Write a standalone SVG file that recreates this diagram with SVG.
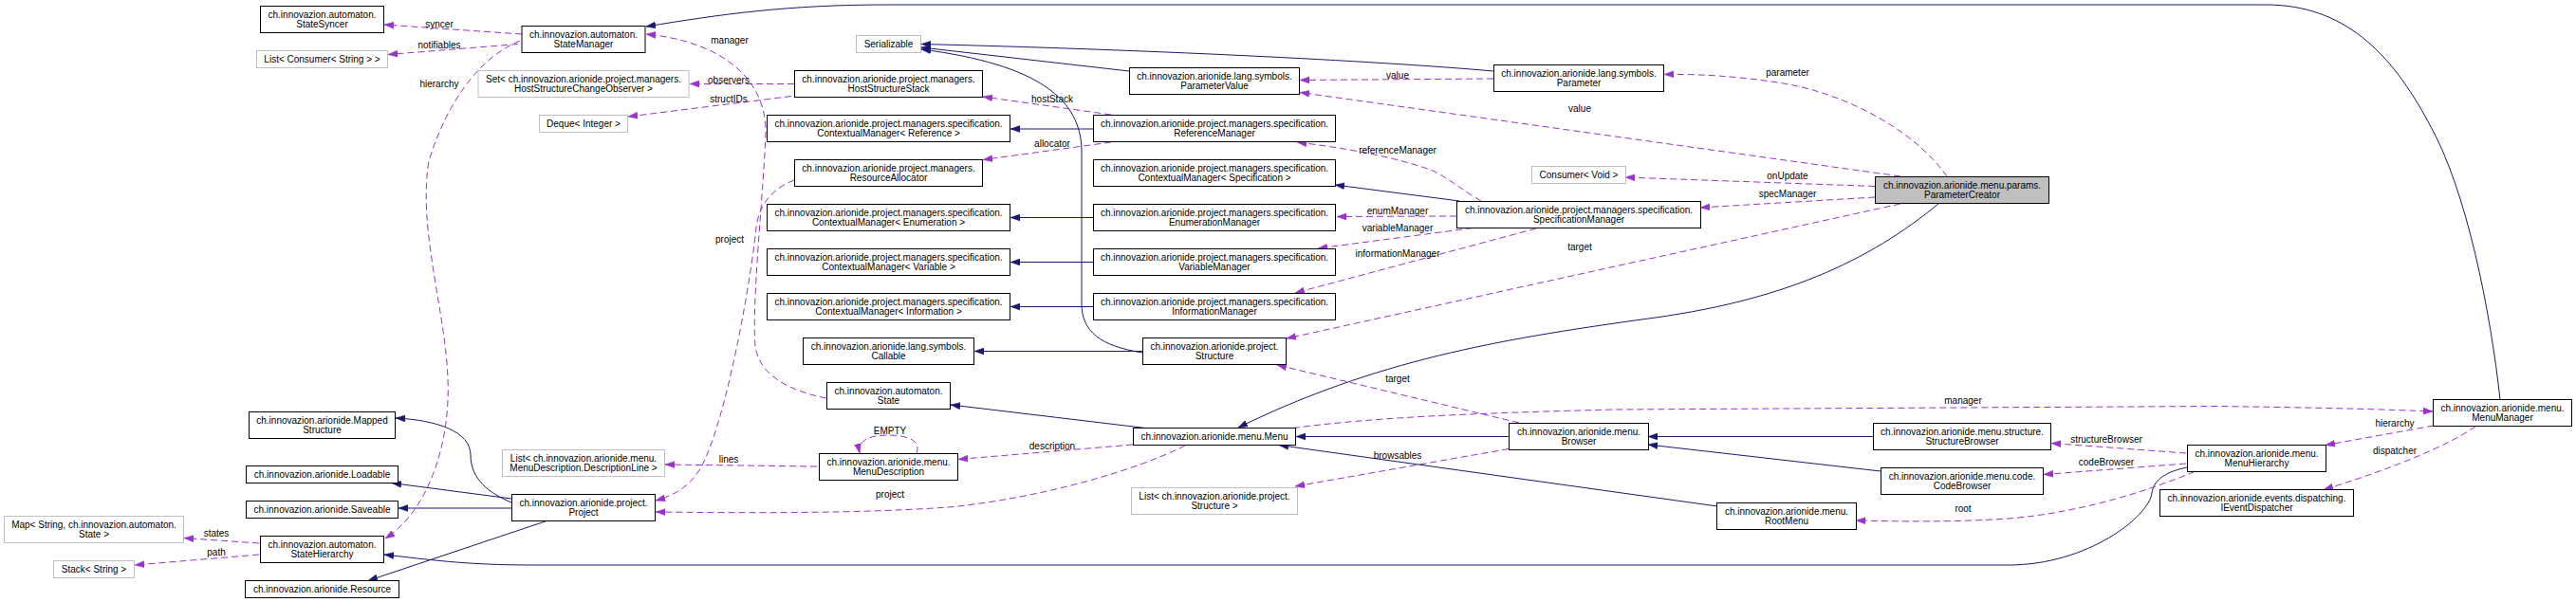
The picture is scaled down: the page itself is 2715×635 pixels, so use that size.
<svg xmlns="http://www.w3.org/2000/svg" width="2715" height="635" viewBox="0 0 2715 635">
<style>
text{font-family:"Liberation Sans",Arial,Helvetica,sans-serif;font-size:10px;text-anchor:middle;fill:#000}
.node rect{fill:#fff;stroke:#000;stroke-width:1}
.ext rect{stroke:#bfbfbf}
.cur rect{fill:#bfbfbf}
.inh{fill:none;stroke:#191970;stroke-width:1;marker-end:url(#an)}
.use{fill:none;stroke:#9a32cd;stroke-width:1;stroke-dasharray:7,4;marker-end:url(#ap)}
</style>
<defs>
<marker id="an" markerUnits="userSpaceOnUse" markerWidth="10" markerHeight="8" viewBox="0 0 10 8" refX="10" refY="4" orient="auto"><path d="M0,0.5 L10,4 L0,7.5 z" fill="#191970" stroke="#191970" stroke-width="0.5"/></marker>
<marker id="ap" markerUnits="userSpaceOnUse" markerWidth="10" markerHeight="8" viewBox="0 0 10 8" refX="10" refY="4" orient="auto"><path d="M0,0.5 L10,4 L0,7.5 z" fill="#9a32cd" stroke="#9a32cd" stroke-width="0.5"/></marker>
</defs>
<rect width="2715" height="635" fill="#fff"/>

<g id="connectors">
<!-- inheritance -->
<path class="inh" d="M2635,421.5 C2625,330 2600,200 2560,130 C2520,55 2470,5 2388,5 L935,5 C830,5 760,15 681,28"/>
<path class="inh" d="M2043,215 C1970,275 1880,318 1730,337 C1580,358 1450,380 1305,451"/>
<path class="inh" d="M1574,75 C1450,64 1200,52 971,46.5"/>
<path class="inh" d="M1190,75 L971,50"/>
<path class="inh" d="M1204,372 C1160,365 1140,350 1140,320 L1140,160 C1140,105 1095,68 971,52"/>
<path class="inh" d="M1152,136 L1065,136"/>
<path class="inh" d="M1538,212 L1407,195"/>
<path class="inh" d="M1152,229.5 L1065,229.5"/>
<path class="inh" d="M1152,276.5 L1065,276.5"/>
<path class="inh" d="M1152,323.5 L1065,323.5"/>
<path class="inh" d="M1204,370.5 L1027,370.5"/>
<path class="inh" d="M1207,451.5 L1002,427"/>
<path class="inh" d="M1590,460.5 L1366,460.5"/>
<path class="inh" d="M1810,534 L1348,469.5"/>
<path class="inh" d="M1974,460.5 L1737,460.5"/>
<path class="inh" d="M1982,497 L1737,469"/>
<path class="inh" d="M2305,493 C2285,497 2270,505 2268,520 C2265,545 2200,596 2117,596 L560,596 C490,596 450,590 405,585"/>
<path class="inh" d="M539,530 C515,520 496,505 496,480 C496,455 460,443 417,441"/>
<path class="inh" d="M539,526 L413,509.5"/>
<path class="inh" d="M539,536 L420,536"/>
<path class="inh" d="M576,549.5 L388,612.5"/>
<!-- usage -->
<path class="use" d="M550,36 L405,26"/>
<path class="use" d="M546,46.5 L409,57.5"/>
<path class="use" d="M548,43 C505,60 470,110 452,170 C440,240 470,330 472,400 C475,470 450,540 406,568"/>
<path class="use" d="M837,88.5 L727,88.5"/>
<path class="use" d="M834,101.5 L662,123"/>
<path class="use" d="M871,420 C830,412 800,395 796,365 C792,320 805,200 807,140 C808,90 770,45 681,36"/>
<path class="use" d="M837,190 C815,198 800,215 797,240 C792,290 770,420 745,480 C735,505 720,520 691,528"/>
<path class="use" d="M1171,121 L1036,102"/>
<path class="use" d="M1171,150 L1036,168.5"/>
<path class="use" d="M1574,83 L1370,84.5"/>
<path class="use" d="M2052,186 C2020,140 1950,100 1880,88 C1830,80 1790,78 1754,78.5"/>
<path class="use" d="M2003,186 L1370,97.5"/>
<path class="use" d="M1976,196.5 L1713,187"/>
<path class="use" d="M1976,208 L1792,219"/>
<path class="use" d="M2003,215 L1356,357"/>
<path class="use" d="M1561,212 C1540,200 1530,190 1510,180 C1470,165 1410,155 1367,150"/>
<path class="use" d="M1535,228 L1409,228.5"/>
<path class="use" d="M1552,240.5 L1389,262"/>
<path class="use" d="M1619,241 L1365,309"/>
<path class="use" d="M1601,446 L1346,385"/>
<path class="use" d="M1363,451.5 C1450,440 1550,436 1700,432 L2336,428.5 C2450,430 2520,432 2564,434"/>
<path class="use" d="M1194,469 L1010,484.5"/>
<path class="use" d="M966,478 C972,462 950,459 936,459 C918,459 903,464 906,478"/>
<path class="use" d="M861,492 L701,490"/>
<path class="use" d="M1249,470 C1200,495 1100,525 1000,535 C900,542 780,541 691,540"/>
<path class="use" d="M1590,473.5 L1365,513"/>
<path class="use" d="M2313,497.5 C2270,515 2200,540 2117,547 C2060,551 2000,550 1956,549"/>
<path class="use" d="M2304,478 L2162,467.5"/>
<path class="use" d="M2304,489 L2154,500.5"/>
<path class="use" d="M2565,449 L2451,469.5"/>
<path class="use" d="M2609,450 C2580,470 2520,495 2449,516.5"/>
<path class="use" d="M273,573 L194,567.5"/>
<path class="use" d="M273,585 L142,596"/>
<!-- labels -->
<text x="463" y="28.5">syncer</text>
<text x="463" y="51">notifiables</text>
<text x="463" y="92">hierarchy</text>
<text x="769" y="46">manager</text>
<text x="768" y="87.5">observers</text>
<text x="768" y="107.5">structIDs</text>
<text x="769" y="256">project</text>
<text x="1109" y="108">hostStack</text>
<text x="1109" y="155">allocator</text>
<text x="1473" y="83">value</text>
<text x="1884" y="80">parameter</text>
<text x="1665" y="118">value</text>
<text x="1884" y="189">onUpdate</text>
<text x="1884" y="208">specManager</text>
<text x="1665" y="264">target</text>
<text x="1473" y="162">referenceManager</text>
<text x="1473" y="226">enumManager</text>
<text x="1473" y="244">variableManager</text>
<text x="1473" y="271">informationManager</text>
<text x="1473" y="403">target</text>
<text x="2069" y="426">manager</text>
<text x="1109" y="473.5">description</text>
<text x="938" y="458">EMPTY</text>
<text x="768" y="488">lines</text>
<text x="938" y="525">project</text>
<text x="1473" y="484">browsables</text>
<text x="2069" y="540">root</text>
<text x="2220" y="467">structureBrowser</text>
<text x="2220" y="491">codeBrowser</text>
<text x="2524" y="450">hierarchy</text>
<text x="2524" y="479">dispatcher</text>
<text x="228" y="566">states</text>
<text x="228" y="586">path</text>
</g>

<g id="StateSyncer" class="node"><rect x="274.5" y="6.5" width="130" height="28"/><text x="339.5" y="18.5">ch.innovazion.automaton.</text><text x="339.5" y="29">StateSyncer</text></g>
<g id="ListConsumerString" class="node ext"><rect x="270.5" y="53.5" width="138" height="18"/><text x="339.5" y="66">List&lt; Consumer&lt; String &gt; &gt;</text></g>
<g id="StateManager" class="node"><rect x="550" y="27.5" width="130" height="28"/><text x="615" y="39.5">ch.innovazion.automaton.</text><text x="615" y="50">StateManager</text></g>
<g id="SetHostObserver" class="node ext"><rect x="504" y="74.5" width="222" height="28"/><text x="615" y="86.5">Set&lt; ch.innovazion.arionide.project.managers.</text><text x="615" y="97">HostStructureChangeObserver &gt;</text></g>
<g id="DequeInteger" class="node ext"><rect x="568.5" y="121.5" width="93" height="18"/><text x="615" y="134">Deque&lt; Integer &gt;</text></g>
<g id="Serializable" class="node ext"><rect x="902.5" y="37.5" width="68" height="18"/><text x="936.5" y="50">Serializable</text></g>
<g id="HostStructureStack" class="node"><rect x="837.5" y="74.5" width="198" height="28"/><text x="936.5" y="86.5">ch.innovazion.arionide.project.managers.</text><text x="936.5" y="97">HostStructureStack</text></g>
<g id="ParameterValue" class="node"><rect x="1190.5" y="71.5" width="179" height="28"/><text x="1280" y="83.5">ch.innovazion.arionide.lang.symbols.</text><text x="1280" y="94">ParameterValue</text></g>
<g id="Parameter" class="node"><rect x="1574.5" y="68.5" width="179" height="28"/><text x="1664" y="80.5">ch.innovazion.arionide.lang.symbols.</text><text x="1664" y="91">Parameter</text></g>
<g id="ParameterCreator" class="node cur"><rect x="1976.5" y="186.5" width="183" height="28"/><text x="2068" y="198.5">ch.innovazion.arionide.menu.params.</text><text x="2068" y="209">ParameterCreator</text></g>
<g id="ConsumerVoid" class="node ext"><rect x="1614.5" y="175.5" width="99" height="18"/><text x="1664" y="188">Consumer&lt; Void &gt;</text></g>
<g id="CMReference" class="node"><rect x="808.5" y="121.5" width="256" height="28"/><text x="936.5" y="133.5">ch.innovazion.arionide.project.managers.specification.</text><text x="936.5" y="144">ContextualManager&lt; Reference &gt;</text></g>
<g id="ReferenceManager" class="node"><rect x="1152.5" y="121.5" width="255" height="28"/><text x="1280" y="133.5">ch.innovazion.arionide.project.managers.specification.</text><text x="1280" y="144">ReferenceManager</text></g>
<g id="ResourceAllocator" class="node"><rect x="837.5" y="168.5" width="198" height="28"/><text x="936.5" y="180.5">ch.innovazion.arionide.project.managers.</text><text x="936.5" y="191">ResourceAllocator</text></g>
<g id="CMSpecification" class="node"><rect x="1152.5" y="168.5" width="255" height="28"/><text x="1280" y="180.5">ch.innovazion.arionide.project.managers.specification.</text><text x="1280" y="191">ContextualManager&lt; Specification &gt;</text></g>
<g id="CMEnumeration" class="node"><rect x="808.5" y="215.5" width="256" height="28"/><text x="936.5" y="227.5">ch.innovazion.arionide.project.managers.specification.</text><text x="936.5" y="238">ContextualManager&lt; Enumeration &gt;</text></g>
<g id="EnumerationManager" class="node"><rect x="1152.5" y="215.5" width="255" height="28"/><text x="1280" y="227.5">ch.innovazion.arionide.project.managers.specification.</text><text x="1280" y="238">EnumerationManager</text></g>
<g id="SpecificationManager" class="node"><rect x="1535.5" y="212.5" width="257" height="28"/><text x="1664" y="224.5">ch.innovazion.arionide.project.managers.specification.</text><text x="1664" y="235">SpecificationManager</text></g>
<g id="CMVariable" class="node"><rect x="808.5" y="262.5" width="256" height="28"/><text x="936.5" y="274.5">ch.innovazion.arionide.project.managers.specification.</text><text x="936.5" y="285">ContextualManager&lt; Variable &gt;</text></g>
<g id="VariableManager" class="node"><rect x="1152.5" y="262.5" width="255" height="28"/><text x="1280" y="274.5">ch.innovazion.arionide.project.managers.specification.</text><text x="1280" y="285">VariableManager</text></g>
<g id="CMInformation" class="node"><rect x="808.5" y="309.5" width="256" height="28"/><text x="936.5" y="321.5">ch.innovazion.arionide.project.managers.specification.</text><text x="936.5" y="332">ContextualManager&lt; Information &gt;</text></g>
<g id="InformationManager" class="node"><rect x="1152.5" y="309.5" width="255" height="28"/><text x="1280" y="321.5">ch.innovazion.arionide.project.managers.specification.</text><text x="1280" y="332">InformationManager</text></g>
<g id="Callable" class="node"><rect x="846.5" y="356.5" width="180" height="28"/><text x="936.5" y="368.5">ch.innovazion.arionide.lang.symbols.</text><text x="936.5" y="379">Callable</text></g>
<g id="Structure" class="node"><rect x="1204.5" y="356.5" width="151" height="28"/><text x="1280" y="368.5">ch.innovazion.arionide.project.</text><text x="1280" y="379">Structure</text></g>
<g id="State" class="node"><rect x="871.5" y="403.5" width="130" height="28"/><text x="936.5" y="415.5">ch.innovazion.automaton.</text><text x="936.5" y="426">State</text></g>
<g id="Menu" class="node"><rect x="1194.5" y="451.5" width="171" height="18"/><text x="1280" y="464">ch.innovazion.arionide.menu.Menu</text></g>
<g id="MenuDescription" class="node"><rect x="863.5" y="478.5" width="146" height="28"/><text x="936.5" y="490.5">ch.innovazion.arionide.menu.</text><text x="936.5" y="501">MenuDescription</text></g>
<g id="ListDescriptionLine" class="node ext"><rect x="529.5" y="474.5" width="171" height="28"/><text x="615" y="486.5">List&lt; ch.innovazion.arionide.menu.</text><text x="615" y="497">MenuDescription.DescriptionLine &gt;</text></g>
<g id="Browser" class="node"><rect x="1590.5" y="446.5" width="147" height="28"/><text x="1664" y="458.5">ch.innovazion.arionide.menu.</text><text x="1664" y="469">Browser</text></g>
<g id="ListStructure" class="node ext"><rect x="1192.5" y="514.5" width="175" height="28"/><text x="1280" y="526.5">List&lt; ch.innovazion.arionide.project.</text><text x="1280" y="537">Structure &gt;</text></g>
<g id="RootMenu" class="node"><rect x="1809.5" y="530.5" width="147" height="28"/><text x="1883" y="542.5">ch.innovazion.arionide.menu.</text><text x="1883" y="553">RootMenu</text></g>
<g id="StructureBrowser" class="node"><rect x="1974.5" y="446.5" width="187" height="28"/><text x="2068" y="458.5">ch.innovazion.arionide.menu.structure.</text><text x="2068" y="469">StructureBrowser</text></g>
<g id="CodeBrowser" class="node"><rect x="1982.5" y="493.5" width="171" height="28"/><text x="2068" y="505.5">ch.innovazion.arionide.menu.code.</text><text x="2068" y="516">CodeBrowser</text></g>
<g id="MenuHierarchy" class="node"><rect x="2305.5" y="469.5" width="146" height="28"/><text x="2378.5" y="481.5">ch.innovazion.arionide.menu.</text><text x="2378.5" y="492">MenuHierarchy</text></g>
<g id="IEventDispatcher" class="node"><rect x="2276.5" y="516.5" width="204" height="28"/><text x="2378.5" y="528.5">ch.innovazion.arionide.events.dispatching.</text><text x="2378.5" y="539">IEventDispatcher</text></g>
<g id="MenuManager" class="node"><rect x="2564.5" y="421.5" width="146" height="28"/><text x="2637.5" y="433.5">ch.innovazion.arionide.menu.</text><text x="2637.5" y="444">MenuManager</text></g>
<g id="MappedStructure" class="node"><rect x="262.5" y="434.5" width="154" height="28"/><text x="339.5" y="446.5">ch.innovazion.arionide.Mapped</text><text x="339.5" y="457">Structure</text></g>
<g id="Loadable" class="node"><rect x="259.5" y="491.5" width="160" height="18"/><text x="339.5" y="504">ch.innovazion.arionide.Loadable</text></g>
<g id="Saveable" class="node"><rect x="259.5" y="528.5" width="160" height="18"/><text x="339.5" y="541">ch.innovazion.arionide.Saveable</text></g>
<g id="MapStringState" class="node ext"><rect x="4.5" y="544.5" width="189" height="28"/><text x="99" y="556.5">Map&lt; String, ch.innovazion.automaton.</text><text x="99" y="567">State &gt;</text></g>
<g id="StackString" class="node ext"><rect x="56.5" y="591.5" width="85" height="18"/><text x="99" y="604">Stack&lt; String &gt;</text></g>
<g id="StateHierarchy" class="node"><rect x="274.5" y="565.5" width="130" height="28"/><text x="339.5" y="577.5">ch.innovazion.automaton.</text><text x="339.5" y="588">StateHierarchy</text></g>
<g id="Resource" class="node"><rect x="258.5" y="612.5" width="162" height="18"/><text x="339.5" y="625">ch.innovazion.arionide.Resource</text></g>
<g id="Project" class="node"><rect x="539.5" y="521.5" width="151" height="28"/><text x="615" y="533.5">ch.innovazion.arionide.project.</text><text x="615" y="544">Project</text></g>
</svg>
